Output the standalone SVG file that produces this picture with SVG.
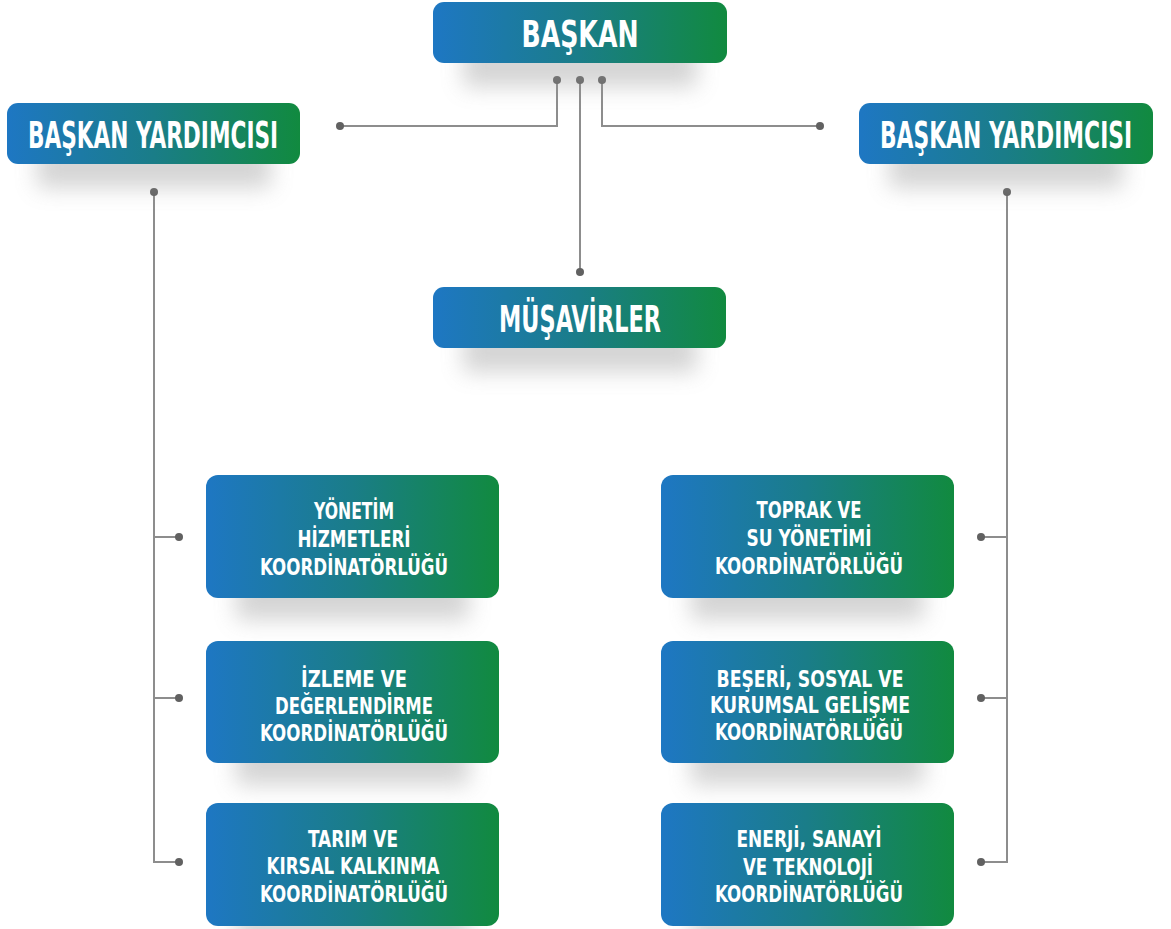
<svg xmlns="http://www.w3.org/2000/svg" width="1171" height="929" viewBox="0 0 1171 929">
<defs>
<linearGradient id="g" x1="0" y1="0" x2="1" y2="0">
<stop offset="0" stop-color="#1e77c3"/>
<stop offset="0.5" stop-color="#1a7d88"/>
<stop offset="1" stop-color="#118a3f"/>
</linearGradient>
<filter id="blur" x="-40%" y="-150%" width="180%" height="400%">
<feGaussianBlur stdDeviation="11"/>
</filter>
<style>
.box{fill:url(#g);}
.sh{fill:#9a9a9a;opacity:0.42;filter:url(#blur);}
.t{fill:#ffffff;font-family:"DejaVu Sans Condensed","Liberation Sans Narrow","Liberation Sans",sans-serif;font-weight:bold;text-anchor:middle;}
.big{font-size:38px;}
.sm{font-size:23px;}
.ln{stroke:#8d8d8d;stroke-width:2;fill:none;}
.dot{fill:#616161;}
</style>
</defs>
<rect width="1171" height="929" fill="#ffffff"/>

<g id="connectors">
<path class="ln" d="M557 80 V126 H340"/>
<path class="ln" d="M580 80 V272"/>
<path class="ln" d="M602 80 V126 H820"/>
<path class="ln" d="M154 192 V862 H179 M154 537 H179 M154 698 H179"/>
<path class="ln" d="M1007 192 V862 H981 M1007 537 H981 M1007 698 H981"/>
<circle class="dot" cx="557" cy="80" r="4"/>
<circle class="dot" cx="580" cy="80" r="4"/>
<circle class="dot" cx="602" cy="80" r="4"/>
<circle class="dot" cx="340" cy="126" r="4"/>
<circle class="dot" cx="820" cy="126" r="4"/>
<circle class="dot" cx="580" cy="272" r="4"/>
<circle class="dot" cx="154" cy="192" r="4"/>
<circle class="dot" cx="1007" cy="192" r="4"/>
<circle class="dot" cx="179" cy="537" r="4"/>
<circle class="dot" cx="179" cy="698" r="4"/>
<circle class="dot" cx="179" cy="862" r="4"/>
<circle class="dot" cx="981" cy="537" r="4"/>
<circle class="dot" cx="981" cy="698" r="4"/>
<circle class="dot" cx="981" cy="862" r="4"/>
</g>

<g id="baskan">
<rect class="sh" x="463" y="45" width="234" height="42"/>
<rect class="box" x="433" y="2" width="294" height="61" rx="11"/>
<text class="t big" transform="translate(580 46.5) scale(0.65 1)" x="0" y="0" textLength="180" lengthAdjust="spacingAndGlyphs">BAŞKAN</text>
</g>

<g id="baskan-yardimcisi-sol">
<rect class="sh" x="37" y="146" width="234" height="42"/>
<rect class="box" x="7" y="103" width="293" height="61" rx="11"/>
<text class="t big" transform="translate(153 148) scale(0.65 1)" x="0" y="0" textLength="385" lengthAdjust="spacingAndGlyphs">BAŞKAN YARDIMCISI</text>
</g>

<g id="baskan-yardimcisi-sag">
<rect class="sh" x="889" y="146" width="234" height="42"/>
<rect class="box" x="859" y="103" width="294" height="61" rx="11"/>
<text class="t big" transform="translate(1006 148) scale(0.65 1)" x="0" y="0" textLength="388" lengthAdjust="spacingAndGlyphs">BAŞKAN YARDIMCISI</text>
</g>

<g id="musavirler">
<rect class="sh" x="463" y="330" width="234" height="42"/>
<rect class="box" x="433" y="287" width="293" height="61" rx="11"/>
<text class="t big" transform="translate(580 331.5) scale(0.65 1)" x="0" y="0" textLength="249" lengthAdjust="spacingAndGlyphs">MÜŞAVİRLER</text>
</g>

<g id="yonetim-hizmetleri">
<rect class="sh" x="236" y="576" width="233" height="44"/>
<rect class="box" x="206" y="475" width="293" height="123" rx="12"/>
<text class="t sm" x="354" y="519" textLength="80" lengthAdjust="spacingAndGlyphs">YÖNETİM</text>
<text class="t sm" x="354" y="547" textLength="113" lengthAdjust="spacingAndGlyphs">HİZMETLERİ</text>
<text class="t sm" x="354" y="575" textLength="188" lengthAdjust="spacingAndGlyphs">KOORDİNATÖRLÜĞÜ</text>
</g>

<g id="izleme-degerlendirme">
<rect class="sh" x="236" y="741" width="233" height="44"/>
<rect class="box" x="206" y="641" width="293" height="122" rx="12"/>
<text class="t sm" x="354" y="687" textLength="106" lengthAdjust="spacingAndGlyphs">İZLEME VE</text>
<text class="t sm" x="354" y="714" textLength="158" lengthAdjust="spacingAndGlyphs">DEĞERLENDİRME</text>
<text class="t sm" x="354" y="741" textLength="188" lengthAdjust="spacingAndGlyphs">KOORDİNATÖRLÜĞÜ</text>
</g>

<g id="tarim-kirsal">
<rect class="sh" x="236" y="904" width="233" height="38"/>
<rect class="box" x="206" y="803" width="293" height="123" rx="12"/>
<text class="t sm" x="353" y="847" textLength="90" lengthAdjust="spacingAndGlyphs">TARIM VE</text>
<text class="t sm" x="353" y="874" textLength="173" lengthAdjust="spacingAndGlyphs">KIRSAL KALKINMA</text>
<text class="t sm" x="354" y="902" textLength="188" lengthAdjust="spacingAndGlyphs">KOORDİNATÖRLÜĞÜ</text>
</g>

<g id="toprak-su">
<rect class="sh" x="691" y="576" width="233" height="44"/>
<rect class="box" x="661" y="475" width="293" height="123" rx="12"/>
<text class="t sm" x="809" y="518" textLength="105" lengthAdjust="spacingAndGlyphs">TOPRAK VE</text>
<text class="t sm" x="809" y="546" textLength="125" lengthAdjust="spacingAndGlyphs">SU YÖNETİMİ</text>
<text class="t sm" x="809" y="574" textLength="188" lengthAdjust="spacingAndGlyphs">KOORDİNATÖRLÜĞÜ</text>
</g>

<g id="beseri-sosyal">
<rect class="sh" x="691" y="741" width="233" height="44"/>
<rect class="box" x="661" y="641" width="293" height="122" rx="12"/>
<text class="t sm" x="810" y="687" textLength="187" lengthAdjust="spacingAndGlyphs">BEŞERİ, SOSYAL VE</text>
<text class="t sm" x="810" y="713" textLength="200" lengthAdjust="spacingAndGlyphs">KURUMSAL GELİŞME</text>
<text class="t sm" x="809" y="740" textLength="188" lengthAdjust="spacingAndGlyphs">KOORDİNATÖRLÜĞÜ</text>
</g>

<g id="enerji-sanayi">
<rect class="sh" x="691" y="904" width="233" height="38"/>
<rect class="box" x="661" y="803" width="293" height="123" rx="12"/>
<text class="t sm" x="809" y="847" textLength="145" lengthAdjust="spacingAndGlyphs">ENERJİ, SANAYİ</text>
<text class="t sm" x="808" y="875" textLength="130" lengthAdjust="spacingAndGlyphs">VE TEKNOLOJİ</text>
<text class="t sm" x="809" y="902" textLength="188" lengthAdjust="spacingAndGlyphs">KOORDİNATÖRLÜĞÜ</text>
</g>
</svg>
